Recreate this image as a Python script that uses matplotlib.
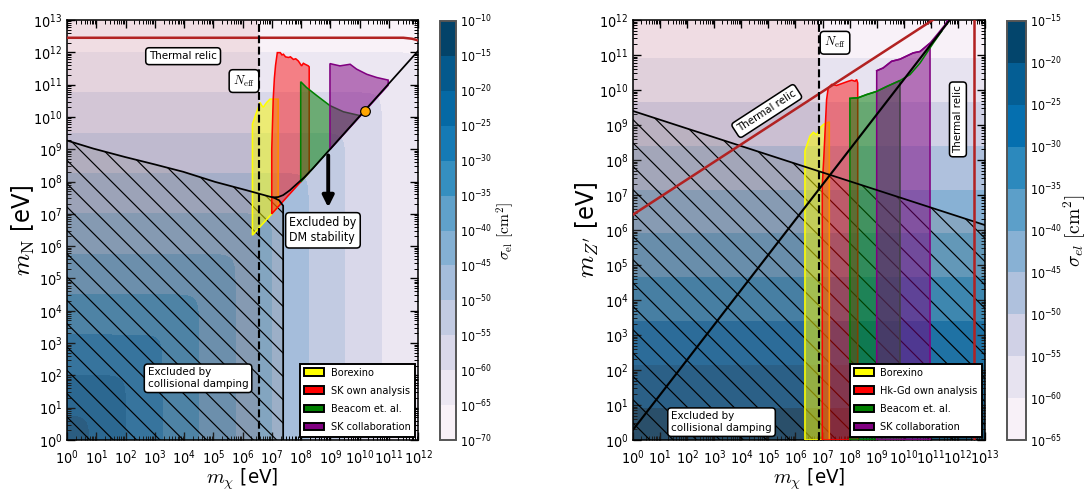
import numpy as np
import matplotlib
matplotlib.use('Agg')
import matplotlib.pyplot as plt
from matplotlib.patches import Patch
from matplotlib.colors import to_rgba
from matplotlib.ticker import LogLocator, NullFormatter

plt.rcParams['font.family'] = ['DejaVu Sans']
plt.rcParams['font.stretch'] = 'condensed'
plt.rcParams['mathtext.fontset'] = 'cm'
plt.rcParams['hatch.linewidth'] = 0.6
plt.rcParams['axes.unicode_minus'] = False

# ---------------- data (all masses as log10(m / eV)) ----------------
# background cross section, sigma ~ m^-4
sig_levels_left = np.arange(-70, -9, 5)
sig_norm_left = -17.0
sig_levels_right = np.arange(-65, -14, 5)
sig_norm_right = -16.44

neff_left = 6.58
neff_right = 6.87

# left panel (fermion mediator N)
relic_x_left = [0, 11.5, 11.8, 12]
relic_y_left = [12.45, 12.45, 12.42, 12.37]

hatch_x_left = [0, 0.9, 1.98, 3.0, 3.98, 5.06, 6.14, 6.94, 7.05, 7.25, 7.39, 7.39]
hatch_y_left = [9.27, 9.02, 8.76, 8.53, 8.30, 7.99, 7.73, 7.53, 7.51, 7.42, 7.25, 0]

stab_x_left = [7.05, 7.22, 7.39, 7.62, 7.85, 8.1, 8.4, 12]
stab_y_left = [7.51, 7.52, 7.58, 7.73, 7.92, 8.12, 8.4, 12.04]

bor_x_left = [6.34, 6.34, 6.60, 6.66, 6.71, 6.83, 6.94, 7.22, 7.22]
bor_y_left = [6.34, 9.78, 10.45, 10.35, 10.30, 10.45, 10.55, 10.55, 7.22]

sk_x_left = [7.0, 7.0, 7.05, 7.09, 7.13, 7.19, 7.29, 7.35, 7.40, 7.47, 7.57, 7.64,
             7.74, 7.82, 7.91, 8.02, 8.08, 8.14, 8.25, 8.28, 8.28]
sk_y_left = [7.0, 9.0, 10.55, 11.2, 11.6, 11.99, 11.99, 11.92, 11.94, 11.86, 11.84, 11.86,
             11.78, 11.80, 11.73, 11.58, 11.66, 11.63, 11.58, 11.55, 8.28]

beacom_x_left = [7.99, 7.99, 8.19, 8.54, 8.99, 9.45, 10.02]
beacom_y_left = [7.99, 11.09, 10.91, 10.66, 10.35, 10.16, 10.04]

skc_x_left = [8.99, 8.99, 9.33, 9.68, 9.90, 10.25, 10.59, 10.98, 10.98]
skc_y_left = [8.99, 11.65, 11.58, 11.63, 11.48, 11.32, 11.22, 11.14, 10.98]

benchmark_left = 10.19
arrow_x_left = 8.93
arrow_y_left = [8.93, 7.08]

# right panel (vector mediator Z')
damp_x_right = [0, 13]
damp_y_right = [9.40, 6.14]
relic_x_right = [0, 11.07]
relic_y_right = [6.44, 12.0]
relic_vert_right = 12.59
stab_x_right = [0, 11.7]
stab_y_right = [0.29, 12.0]

bor_x_right = [6.35, 6.35, 6.54, 6.66, 6.79, 6.92, 7.04, 7.25, 7.25]
bor_y_right = [0, 8.26, 8.69, 8.79, 8.72, 8.93, 9.02, 9.09, 0]

hk_x_right = [6.99, 6.99, 7.05, 7.15, 7.21, 7.34, 7.52, 7.77, 7.95, 8.08, 8.20, 8.26, 8.30, 8.30]
hk_y_right = [0, 7.27, 8.12, 9.73, 10.06, 10.16, 10.13, 10.20, 10.25, 10.28, 10.25, 10.30, 10.20, 0]

beacom_x_right = [8.01, 8.32, 8.63, 9.0, 9.37, 9.86, 10.23, 10.6, 11.09, 11.4]
beacom_y_right = [9.76, 9.78, 9.87, 9.96, 10.1, 10.27, 10.44, 10.77, 11.34, 11.68]
beacom_nfill_right = 6

skc_x_right = [9.0, 9.24, 9.55, 9.86, 10.35, 10.6, 10.97, 11.27, 11.52, 11.62]
skc_y_right = [10.55, 10.63, 10.82, 10.88, 11.06, 11.1, 11.34, 11.62, 11.86, 12.0]
skc_nfill_right = 7

legend_left = ['Borexino', 'SK own analysis', 'Beacom et. al.', 'SK collaboration']
legend_right = ['Borexino', 'Hk-Gd own analysis', 'Beacom et. al.', 'SK collaboration']
region_colors = ['yellow', 'red', 'green', 'purple']
region_alpha = [0.5, 0.45, 0.5, 0.5]

relic_color = '#b22222'


def p10(v):
    return 10.0 ** np.asarray(v, dtype=float)


def style_axis(ax, xdec, ydec):
    ax.set_xscale('log')
    ax.set_yscale('log')
    ax.set_xlim(1, 10.0 ** xdec)
    ax.set_ylim(1, 10.0 ** ydec)
    for a in (ax.xaxis, ax.yaxis):
        a.set_major_locator(LogLocator(base=10, numticks=30))
        a.set_minor_locator(LogLocator(base=10, subs=np.arange(2, 10), numticks=30))
        a.set_minor_formatter(NullFormatter())
    ax.tick_params(which='both', direction='in', top=True, right=True, labelsize=7.3)
    ax.tick_params(which='major', length=4, width=0.7)
    ax.tick_params(which='minor', length=2, width=0.5)
    ax.tick_params(axis='x', which='major', pad=4.2)
    ax.tick_params(axis='y', which='major', pad=2.5)


def region(ax, xs, ys, i):
    ax.fill(p10(xs), p10(ys), facecolor=to_rgba(region_colors[i], region_alpha[i]),
            edgecolor=region_colors[i], lw=0.8, zorder=4)


def box(ax, x, y, s, **kw):
    ax.text(p10(x), p10(y), s, ha='center', va='center', fontsize=kw.pop('fontsize', 5.9),
            bbox=dict(boxstyle='round,pad=0.3', fc='white', ec='black', lw=0.8), zorder=8, **kw)


def colorbar(fig, cs, cax, levels, label, size, pad):
    cb = fig.colorbar(cs, cax=cax, ticks=levels)
    cb.ax.set_yticklabels([r'$\mathdefault{10^{%d}}$' % v for v in levels])
    cb.ax.tick_params(labelsize=6.3, length=0, pad=2)
    cb.outline.set_edgecolor('#555555')
    cb.outline.set_linewidth(1.0)
    cb.set_label(label, fontsize=size, labelpad=pad)
    return cb


def legend(ax, labels):
    handles = [Patch(facecolor=c, edgecolor='black') for c in region_colors]
    lg = ax.legend(handles, labels, loc='lower right', fontsize=5.6, fancybox=False, edgecolor='black',
                   framealpha=1, borderaxespad=0.3, handlelength=1.8, handletextpad=0.6,
                   labelspacing=0.75)
    lg.set_zorder(9)


fig = plt.figure(figsize=(1088 / 140, 492 / 140), dpi=140)
ax1 = fig.add_axes([67 / 1088, 52 / 492, 351 / 1088, 420 / 492])
cax1 = fig.add_axes([440 / 1088, 52 / 492, 16 / 1088, 419 / 492])
ax2 = fig.add_axes([633 / 1088, 52 / 492, 352 / 1088, 420 / 492])
cax2 = fig.add_axes([1007 / 1088, 52 / 492, 19 / 1088, 419 / 492])

# ---------------- left panel ----------------
lx = np.linspace(0, 12, 500)
ly = np.linspace(0, 13, 500)
MX, MN = np.meshgrid(p10(lx), p10(ly))
logsig1 = sig_norm_left - 2 * np.log10(MX ** 2 + MN ** 2)
cs1 = ax1.contourf(MX, MN, logsig1, levels=sig_levels_left, cmap='PuBu', zorder=0)

ax1.axvspan(1, p10(neff_left), color='brown', alpha=0.1, lw=0, zorder=1)
ax1.fill(p10([0] + hatch_x_left), p10([0] + hatch_y_left), facecolor='gray', alpha=0.22, lw=0, zorder=2)
ax1.fill(p10([0] + hatch_x_left), p10([0] + hatch_y_left), facecolor='none', edgecolor='black',
         hatch='\\\\', lw=0, zorder=3)
ax1.plot(p10(hatch_x_left), p10(hatch_y_left), color='black', lw=0.9, zorder=5)
ax1.plot(p10(stab_x_left), p10(stab_y_left), color='black', lw=0.9, zorder=5)

region(ax1, bor_x_left, bor_y_left, 0)
region(ax1, sk_x_left, sk_y_left, 1)
region(ax1, beacom_x_left, beacom_y_left, 2)
region(ax1, skc_x_left, skc_y_left, 3)

ax1.plot(p10(relic_x_left), p10(relic_y_left), color=relic_color, lw=1.3, zorder=6)
ax1.axvline(p10(neff_left), color='black', ls='--', lw=1.1, zorder=6)
ax1.plot(p10(benchmark_left), p10(benchmark_left), 'o', color='orange', mec='black', ms=5, mew=0.6, zorder=7)
ax1.annotate('', xy=(p10(arrow_x_left), p10(arrow_y_left[1])), xytext=(p10(arrow_x_left), p10(arrow_y_left[0])),
             arrowprops=dict(arrowstyle='-|>', color='black', lw=2, mutation_scale=12), zorder=7)

box(ax1, 3.97, 11.88, 'Thermal relic')
box(ax1, 6.05, 11.11, r'$N_{\rm eff}$', fontsize=6.5)
box(ax1, 8.75, 6.49, 'Excluded by\nDM stability', multialignment='left', fontsize=6.3)
box(ax1, 4.48, 1.91, 'Excluded by\ncollisional damping', multialignment='left')

style_axis(ax1, 12, 13)
ax1.set_xlabel(r'$m_\chi$ [eV]', fontsize=10.5, labelpad=0)
ax1.set_ylabel(r'$m_{\rm N}$ [eV]', fontsize=13, labelpad=-2)
legend(ax1, legend_left)
colorbar(fig, cs1, cax1, sig_levels_left, r'$\sigma_{\rm el}\ [{\rm cm}^2]$', 8, 1)

# ---------------- right panel ----------------
lx2 = np.linspace(0, 13, 500)
ly2 = np.linspace(0, 12, 500)
MX2, MZ = np.meshgrid(p10(lx2), p10(ly2))
logsig2 = sig_norm_right - 4 * np.log10(MZ)
cs2 = ax2.contourf(MX2, MZ, logsig2, levels=sig_levels_right, cmap='PuBu', zorder=0)

ax2.axvspan(1, p10(neff_right), color='brown', alpha=0.1, lw=0, zorder=1)
hx = [0] + damp_x_right + [13]
hy = [0] + damp_y_right + [0]
ax2.fill(p10(hx), p10(hy), facecolor='gray', alpha=0.22, lw=0, zorder=2)
ax2.fill(p10(hx), p10(hy), facecolor='none', edgecolor='black', hatch='\\\\', lw=0, zorder=3)
ax2.plot(p10(damp_x_right), p10(damp_y_right), color='black', lw=0.9, zorder=5)

region(ax2, bor_x_right, bor_y_right, 0)
region(ax2, hk_x_right, hk_y_right, 1)
n = beacom_nfill_right
region(ax2, [beacom_x_right[0]] + beacom_x_right[:n] + [beacom_x_right[n - 1]],
       [0] + beacom_y_right[:n] + [0], 2)
ax2.plot(p10(beacom_x_right), p10(beacom_y_right), color='green', lw=0.8, zorder=5)
n = skc_nfill_right
region(ax2, [skc_x_right[0]] + skc_x_right[:n] + [skc_x_right[n - 1]],
       [0] + skc_y_right[:n] + [0], 3)
ax2.plot(p10(skc_x_right), p10(skc_y_right), color='purple', lw=0.8, zorder=5)

ax2.plot(p10(stab_x_right), p10(stab_y_right), color='black', lw=1.1, zorder=6)
ax2.plot(p10(relic_x_right), p10(relic_y_right), color=relic_color, lw=1.3, zorder=6)
ax2.axvline(p10(relic_vert_right), color=relic_color, lw=1.3, zorder=6)
ax2.axvline(p10(neff_right), color='black', ls='--', lw=1.1, zorder=6)

box(ax2, 4.94, 9.40, 'Thermal relic', rotation=33)
box(ax2, 12.0, 9.16, 'Thermal relic', rotation=90)
box(ax2, 7.46, 11.35, r'$N_{\rm eff}$', fontsize=6.5)
box(ax2, 3.27, 0.51, 'Excluded by\ncollisional damping', multialignment='left')

style_axis(ax2, 13, 12)
ax2.set_xlabel(r'$m_\chi$ [eV]', fontsize=10.5, labelpad=0)
ax2.set_ylabel(r"$m_{Z'}$ [eV]", fontsize=13, labelpad=-1)
legend(ax2, legend_right)
colorbar(fig, cs2, cax2, sig_levels_right, r'$\sigma_{el}\ [{\rm cm}^2]$', 10, 0)

fig.savefig('out.png', dpi=140)
